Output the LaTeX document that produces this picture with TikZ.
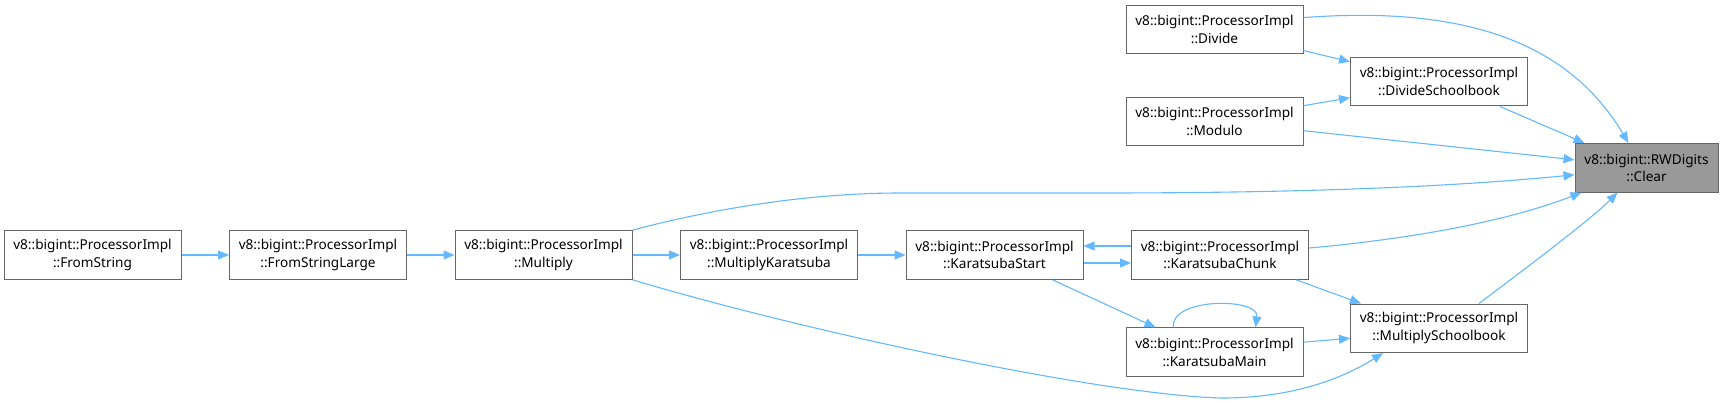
\documentclass[tikz,border=0pt]{standalone}
\usepackage{fontspec}
\setmainfont{Noto Sans}
\usetikzlibrary{
  arrows.meta,
  positioning
}
\definecolor{calledge}{RGB}{99,184,255}
\definecolor{boxline}{RGB}{102,102,102}
\definecolor{curfill}{RGB}{153,153,153}
\tikzset{
  fnbox/.style={
    draw=boxline, fill=white, line width=1pt,
    minimum width=177pt, minimum height=48.6pt,
    inner sep=0pt, align=center,
    font=\fontsize{13.6}{17.7}\selectfont
  },
  curbox/.style={
    fnbox, fill=curfill, minimum width=143pt
  },
  callarrow/.style={
    -{Triangle[length=11pt,width=9pt]},
    draw=calledge, line width=1.1pt
  },
}

\begin{document}
\begin{tikzpicture}[x=1pt, y=-1pt, node distance=47.5pt]
  \useasboundingbox (0,0) rectangle (1723,403);

  %% Function of interest
  \node[curbox] (clear) at (1646.5,167.8) {v8::bigint::RWDigits\\::Clear};

  %% Upper callers
  \node[fnbox] (divide) at (1214.5,29.6) {v8::bigint::ProcessorImpl\\::Divide};
  \node[fnbox] (divsch) at (1439,81.7) {v8::bigint::ProcessorImpl\\::DivideSchoolbook};
  \node[fnbox] (modulo) at (1214.5,121.7) {v8::bigint::ProcessorImpl\\::Modulo};

  %% Main row
  \node[fnbox] (fromstr) at (92.5,255) {v8::bigint::ProcessorImpl\\::FromString};
  \node[fnbox, right=of fromstr] (fsl) {v8::bigint::ProcessorImpl\\::FromStringLarge};
  \node[fnbox, right=of fsl] (multiply) {v8::bigint::ProcessorImpl\\::Multiply};
  \node[fnbox, right=of multiply] (mulkara) {v8::bigint::ProcessorImpl\\::MultiplyKaratsuba};
  \node[fnbox, right=of mulkara] (kstart) {v8::bigint::ProcessorImpl\\::KaratsubaStart};
  \node[fnbox, right=of kstart] (kchunk) {v8::bigint::ProcessorImpl\\::KaratsubaChunk};

  %% Lower callers
  \node[fnbox] (mulsch) at (1439,328.3) {v8::bigint::ProcessorImpl\\::MultiplySchoolbook};
  \node[fnbox] (kmain) at (1214.5,352.2) {v8::bigint::ProcessorImpl\\::KaratsubaMain};

  %% Calls into Clear
  \draw[callarrow] ([yshift=12pt]divide.east)
    .. controls (1470,5) and (1570,45) .. ([xshift=-18pt]clear.north);
  \draw[callarrow] ([xshift=61pt]divsch.south) -- ([xshift=10pt]clear.north west);
  \draw[callarrow] ([yshift=-9pt]modulo.east) -- ([yshift=8pt]clear.west);
  \draw[callarrow] (multiply.north east)
    .. controls (700,212) and (800,193) .. (900,193) -- (1100,193)
    .. controls (1300,193) and (1450,187) .. ([yshift=-7pt]clear.west);
  \draw[callarrow] ([yshift=7pt]kchunk.east)
    .. controls (1420,238) and (1510,220) .. ([xshift=7pt]clear.south west);
  \draw[callarrow] ([xshift=40pt]mulsch.north)
    .. controls (1530,265) and (1590,220) .. ([xshift=-29pt]clear.south);

  %% Division callers
  \draw[callarrow] ([yshift=-21pt]divide.east) -- ([yshift=20pt]divsch.west);
  \draw[callarrow] ([yshift=16pt]modulo.east) -- ([yshift=-16pt]divsch.west);

  %% Main row chain
  \draw[callarrow] (fromstr) -- (fsl);
  \draw[callarrow] (fsl) -- (multiply);
  \draw[callarrow] (multiply) -- (mulkara);
  \draw[callarrow] (mulkara) -- (kstart);
  \draw[callarrow] ([yshift=9pt]kchunk.west) -- ([yshift=9pt]kstart.east);
  \draw[callarrow] ([yshift=-8pt]kstart.east) -- ([yshift=-8pt]kchunk.west);

  %% Karatsuba / schoolbook
  \draw[callarrow] ([xshift=58pt]kstart.south) -- ([xshift=30pt]kmain.north west);
  \draw[callarrow] ([xshift=-41pt]kmain.north)
    .. controls +(-4,-30) and +(4,-30) .. ([xshift=41pt]kmain.north);
  \draw[callarrow] ([yshift=10pt]kmain.east) -- ([yshift=-10pt]mulsch.west);
  \draw[callarrow] ([xshift=76pt]kchunk.south) -- ([xshift=11pt]mulsch.north west);
  \draw[callarrow] (multiply.south east)
    .. controls (800,330) and (1100,395) .. (1222,398)
    .. controls (1290,398) and (1340,380) .. ([xshift=-56pt]mulsch.south);

\end{tikzpicture}
\end{document}
